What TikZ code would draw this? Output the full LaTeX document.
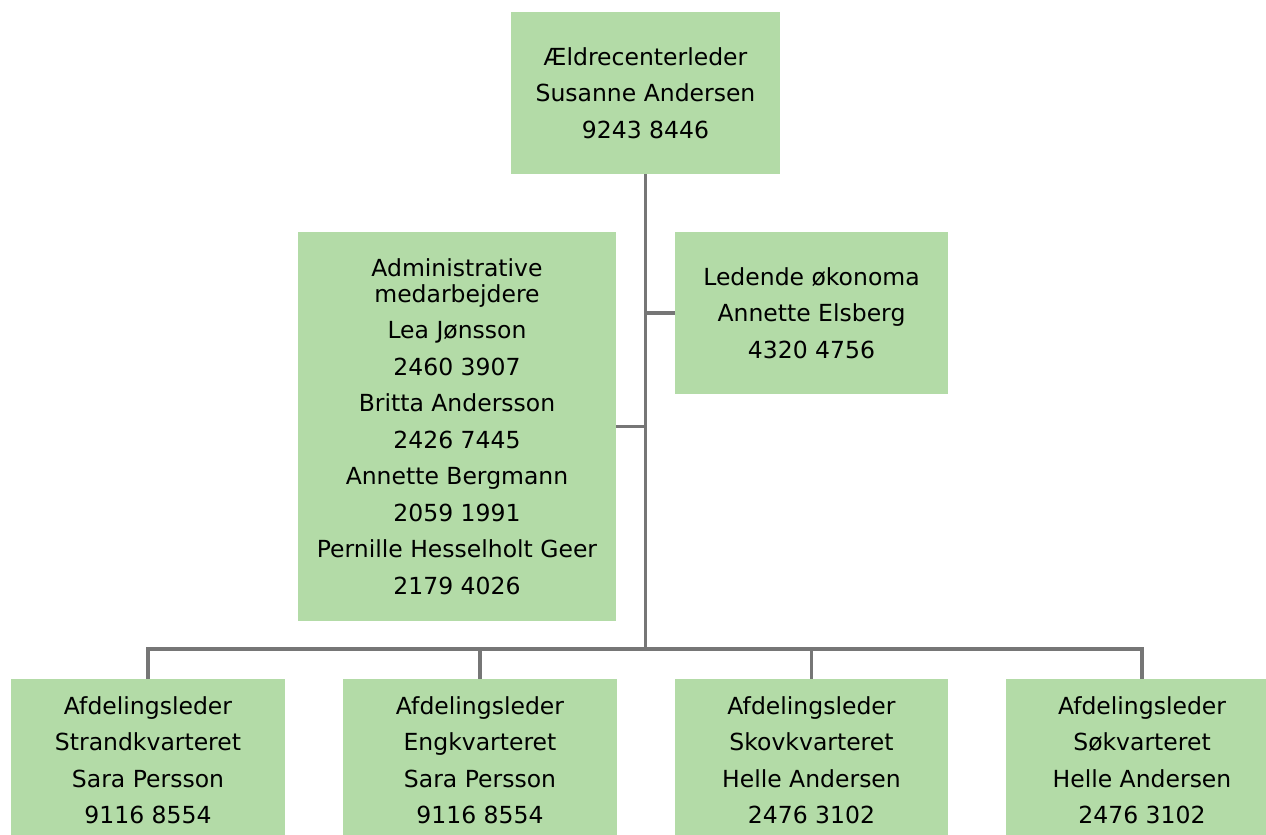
\documentclass[tikz,border=0pt]{standalone}
\usepackage{fontspec}
\setmainfont{DejaVu Sans}
\definecolor{boxfill}{RGB}{179,219,167}
\definecolor{linegray}{RGB}{118,118,118}
\tikzset{
  box/.style={fill=boxfill, draw=none, inner sep=0pt, align=center,
    font=\fontsize{23.5pt}{36.5pt}\selectfont},
  conn/.style={draw=linegray, line width=3.8pt}
}
\begin{document}
\begin{tikzpicture}[x=1pt,y=-1pt]
\useasboundingbox (0,0) rectangle (1266,835);
\node[box, minimum width=269pt, minimum height=162pt] (top) at (645.5,93) {Ældrecenterleder\\Susanne Andersen\\9243 8446};
\node[box, minimum width=318pt, minimum height=389pt] (adm) at (457,426.5) {Administrative\\[-11pt]medarbejdere\\Lea Jønsson\\2460 3907\\Britta Andersson\\2426 7445\\Annette Bergmann\\2059 1991\\Pernille Hesselholt Geer\\2179 4026};
\node[box, minimum width=273pt, minimum height=162pt] (oek) at (811.5,313) {Ledende økonoma\\Annette Elsberg\\4320 4756};
\node[box, minimum width=274pt, minimum height=162pt] (b1) at (148,760) {Afdelingsleder\\Strandkvarteret\\Sara Persson\\9116 8554};
\node[box, minimum width=274pt, minimum height=162pt] (b2) at (480,760) {Afdelingsleder\\Engkvarteret\\Sara Persson\\9116 8554};
\node[box, minimum width=273pt, minimum height=162pt] (b3) at (811.5,760) {Afdelingsleder\\Skovkvarteret\\Helle Andersen\\2476 3102};
\node[box, minimum width=272pt, minimum height=162pt] (b4) at (1142,760) {Afdelingsleder\\Søkvarteret\\Helle Andersen\\2476 3102};
\coordinate (j) at (645.5,649);
\draw[conn] (top.south) -- (j);
\draw[conn] (oek.west -| j) -- (oek.west);
\draw[conn] (adm.east -| j) -- (adm.east);
\draw[conn] (b1.north) |- (j) -| (b4.north);
\draw[conn] (b2.north) -- (b2.north |- j);
\draw[conn] (b3.north) -- (b3.north |- j);
\end{tikzpicture}
\end{document}
